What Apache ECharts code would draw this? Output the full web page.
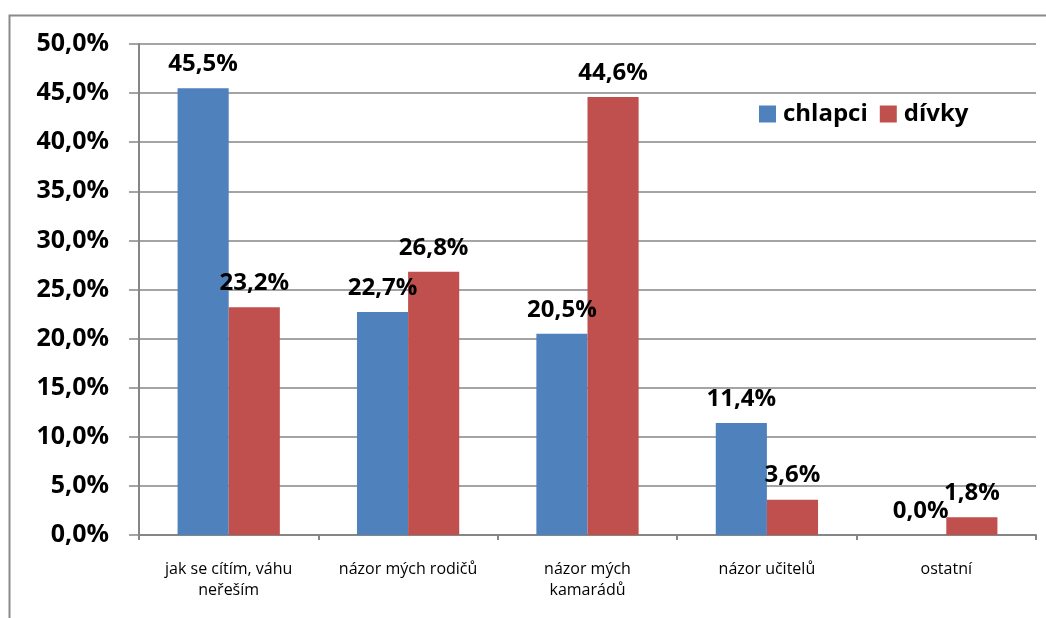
<!DOCTYPE html>
<html>
<head>
<meta charset="utf-8">
<script src="https://cdn.jsdelivr.net/npm/echarts@6/dist/echarts.min.js"></script>
<style>
  html, body { margin: 0; padding: 0; background: #ffffff; }
  #chart { width: 1046px; height: 618px; }
</style>
</head>
<body>
<div id="chart"></div>
<script>
// Categories (answers) and percentage values per group
const categories = [
  'jak se cítím, váhu\nneřeším',
  'názor mých rodičů',
  'názor mých\nkamarádů',
  'názor učitelů',
  'ostatní'
];
const seriesNames = ['chlapci', 'dívky'];
const chlapci = [45.5, 22.7, 20.5, 11.4, 0.0];
const divky = [23.2, 26.8, 44.6, 3.6, 1.8];
const yMin = 0;
const yMax = 50;
const yStep = 5;

const colors = ['#4F81BD', '#C0504D'];
const numFont = '"Open Sans", "DejaVu Sans", sans-serif';

function pct(v) {
  return Number(v).toFixed(1).replace('.', ',') + '%';
}

const labelStyle = {
  show: true,
  position: 'top',
  distance: 12,
  color: '#000',
  fontFamily: numFont,
  fontWeight: 'bold',
  fontSize: 24,
  formatter: p => pct(p.value)
};

const chart = echarts.init(document.getElementById('chart'));
chart.setOption({
  animation: false,
  backgroundColor: '#ffffff',
  graphic: [{
    type: 'rect',
    left: 7,
    top: 13,
    shape: { width: 1100, height: 700 },
    style: { fill: 'none', stroke: '#8a8a8a', lineWidth: 2 },
    silent: true
  }],
  legend: {
    data: seriesNames,
    left: 759,
    top: 102,
    padding: 0,
    itemWidth: 17,
    itemHeight: 17,
    itemGap: 12,
    icon: 'rect',
    textStyle: {
      fontFamily: numFont,
      fontWeight: 'bold',
      fontSize: 24,
      color: '#000',
      padding: [0, 0, 0, 2]
    }
  },
  grid: { left: 139, top: 44, right: 10, bottom: 83, containLabel: false },
  xAxis: {
    type: 'category',
    data: categories,
    axisLine: { show: true, lineStyle: { color: '#868686', width: 2 } },
    axisTick: { show: true, length: 5, lineStyle: { color: '#868686', width: 2 } },
    axisLabel: {
      margin: 24,
      interval: 0,
      color: '#000',
      fontFamily: numFont,
      fontSize: 16,
      lineHeight: 21
    },
    splitLine: { show: false }
  },
  yAxis: {
    type: 'value',
    min: yMin,
    max: yMax,
    interval: yStep,
    axisLine: { show: true, lineStyle: { color: '#868686', width: 2 } },
    axisTick: { show: true, length: 10, lineStyle: { color: '#868686', width: 1.5 } },
    axisLabel: {
      margin: 30,
      color: '#000',
      fontFamily: numFont,
      fontWeight: 'bold',
      fontSize: 25,
      formatter: v => pct(v)
    },
    splitLine: { show: true, lineStyle: { color: '#868686', width: 1.5 } }
  },
  series: [
    {
      name: seriesNames[0],
      type: 'bar',
      data: chlapci,
      itemStyle: { color: colors[0] },
      barGap: '0%',
      barCategoryGap: '43%',
      label: labelStyle
    },
    {
      name: seriesNames[1],
      type: 'bar',
      data: divky,
      itemStyle: { color: colors[1] },
      barGap: '0%',
      barCategoryGap: '43%',
      label: labelStyle
    }
  ]
});
</script>
</body>
</html>
